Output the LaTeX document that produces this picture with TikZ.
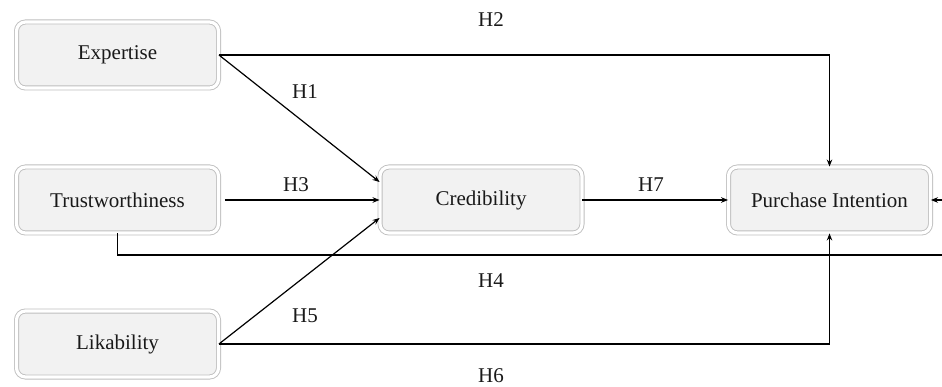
\documentclass[tikz,border=0pt]{standalone}
\usepackage{fontspec}
\setmainfont{Liberation Serif}
\usetikzlibrary{arrows.meta}
\begin{document}
\begin{tikzpicture}[x=1pt,y=-1pt,
  box/.style={draw=black!25, line width=0.9pt, double=white, double distance=3.2pt,
    fill=black!5, rounded corners=9pt, minimum width=202pt, minimum height=66pt,
    font=\fontsize{21}{25}\selectfont, text=black!90, inner sep=0pt},
  lbl/.style={font=\fontsize{21}{25}\selectfont, text=black!90, inner sep=0pt},
  conn/.style={line width=1.2pt, -{Stealth[length=7pt,width=5.5pt]}}]
\useasboundingbox (0,0) rectangle (942,387);
\clip (0,0) rectangle (942,387);
\node[box] (E) at (117.5,55) {Expertise};
\node[box] (T) at (117.5,200) {Trustworthiness};
\node[box] (L) at (117.5,344) {Likability};
\node[box] (C) at (481,200) {Credibility};
\node[box] (P) at (829.5,200) {Purchase Intention};
\coordinate (r1) at (970,255);
\coordinate (r2) at (970,200);
\draw[conn] (E.east) -| (P.north);
\draw[conn] (E.east) -- ([yshift=18pt]C.west);
\draw[conn] ([xshift=6pt]T.east) -- (C.west);
\draw[conn] (L.east) -- ([yshift=-18pt]C.west);
\draw[conn] (C.east) -- (P.west);
\draw[conn] (T.south) |- (r1) -- (r2) -- (P.east);
\draw[conn] (L.east) -| (P.south);
\node[lbl] (h2) at (491,20) {H2};
\node[lbl] (h1) at (305,92) {H1};
\node[lbl] (h3) at (296,185) {H3};
\node[lbl] (h7) at (651,185) {H7};
\node[lbl] (h4) at (491,281) {H4};
\node[lbl] (h5) at (305,316) {H5};
\node[lbl] (h6) at (491,376) {H6};
\end{tikzpicture}
\end{document}
